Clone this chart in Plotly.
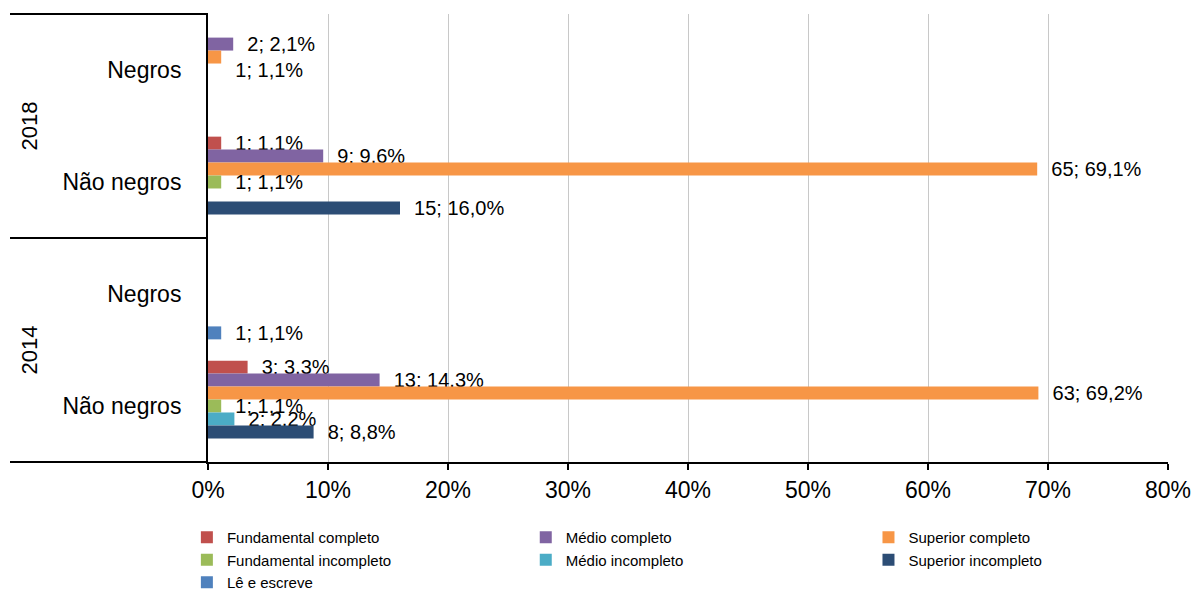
import plotly.graph_objects as go

# categories, top to bottom
cat_keys = ["2018|Negros", "2018|Não negros", "2014|Negros", "2014|Não negros"]
cat_labels = ["Negros", "Não negros", "Negros", "Não negros"]
years = ["2018", "2014"]

series = ["Fundamental completo", "Médio completo", "Superior completo",
          "Fundamental incompleto", "Médio incompleto", "Superior incompleto",
          "Lê e escreve"]
colors = ["#C0504D", "#8064A2", "#F79646", "#9BBB59", "#4BACC6", "#2C4D75", "#4F81BD"]
legend_col = ["legend", "legend2", "legend3", "legend", "legend2", "legend3", "legend"]

counts = [
    [None, 1, None, 3],
    [2, 9, None, 13],
    [1, 65, None, 63],
    [None, 1, None, 1],
    [None, None, None, 2],
    [None, 15, None, 8],
    [None, None, 1, None],
]
percents = [
    [None, 1.1, None, 3.3],
    [2.1, 9.6, None, 14.3],
    [1.1, 69.1, None, 69.2],
    [None, 1.1, None, 1.1],
    [None, None, None, 2.2],
    [None, 16.0, None, 8.8],
    [None, None, 1.1, None],
]

x_ticks = [0, 10, 20, 30, 40, 50, 60, 70, 80]

# labels that Excel pushed down to avoid a clash
nudged_down = {("Superior completo", "2018|Negros")}

FONT = "Liberation Sans, Arial, sans-serif"

fig = go.Figure()
for name, col, cnt, pct, lg in zip(series, colors, counts, percents, legend_col):
    labels = []
    for key, n, p in zip(cat_keys, cnt, pct):
        if n is None:
            labels.append("")
            continue
        t = "\u00a0\u00a0" + f"{n}; {p:.1f}%".replace(".", ",")
        if (name, key) in nudged_down:
            t = "\u00a0<br>" + t
        labels.append(t)
    fig.add_trace(go.Bar(
        name=name, y=cat_keys, x=pct, orientation="h",
        marker=dict(color=col, line=dict(width=0)),
        text=labels, textposition="outside", cliponaxis=False,
        constraintext="none", legend=lg,
        textfont=dict(family=FONT, size=20, color="black"),
    ))

leg_common = dict(orientation="v", yanchor="top", xanchor="left",
                  xref="paper", yref="container", y=1 - 521 / 594,
                  font=dict(size=15, family=FONT), itemwidth=30, tracegroupgap=0,
                  bgcolor="rgba(0,0,0,0)")
fig.update_layout(
    width=1192, height=594,
    margin=dict(l=208, r=24, t=14, b=132),
    paper_bgcolor="white", plot_bgcolor="white",
    font=dict(family=FONT, color="black"),
    barmode="group", bargap=0.19, bargroupgap=0,
    legend=dict(x=-0.022, **leg_common),
    legend2=dict(x=0.331, **leg_common),
    legend3=dict(x=0.688, **leg_common),
    showlegend=True,
)
fig.update_xaxes(
    range=[0, 80], tickvals=x_ticks, ticktext=[f"{v}%" for v in x_ticks],
    showgrid=True, gridcolor="#C8C8C8", gridwidth=1, zeroline=False,
    showline=True, linecolor="black", linewidth=2, automargin=False,
    ticks="outside", ticklen=6, tickwidth=2, tickcolor="black",
    tickfont=dict(size=23, family=FONT),
)
fig.update_yaxes(
    categoryorder="array", categoryarray=cat_keys, autorange="reversed",
    tickvals=cat_keys, ticktext=cat_labels, ticks="", ticklabelstandoff=20,
    showline=True, linecolor="black", linewidth=2, showgrid=False, automargin=False,
    tickfont=dict(size=23, family=FONT),
)

left = -198 / 960
for yv in [0, 0.5, 1]:
    fig.add_shape(type="line", xref="paper", yref="paper", x0=left, x1=0, y0=yv, y1=yv,
                  line=dict(color="black", width=2))
for i, yr in enumerate(years):
    fig.add_annotation(text=yr, xref="paper", yref="paper", x=-0.186, y=0.75 - 0.5 * i,
                       xanchor="center", yanchor="middle",
                       textangle=-90, showarrow=False, font=dict(size=22, family=FONT))

fig.write_html("out.html", post_script="document.body.style.margin='0';",
               config={"displayModeBar": False})
